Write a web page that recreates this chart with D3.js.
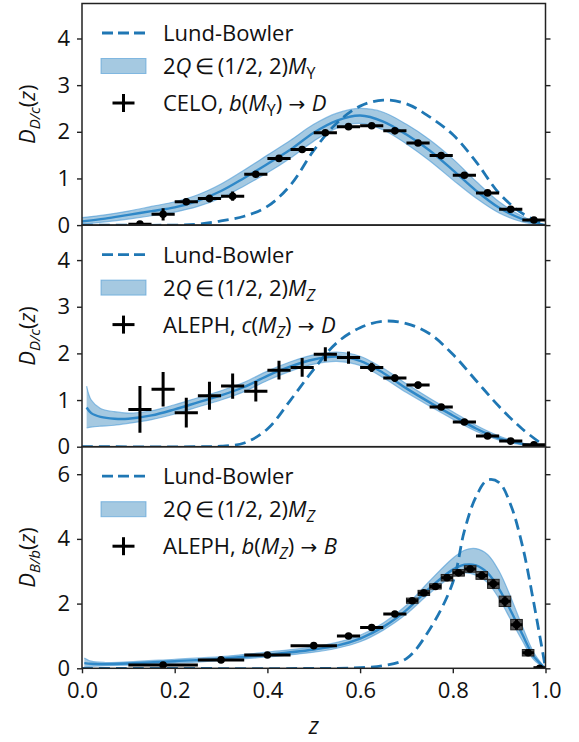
<!DOCTYPE html>
<html>
<head>
<meta charset="utf-8">
<script src="https://cdn.jsdelivr.net/npm/d3@7"></script>
<style>
  body { margin: 0; background: #fff; }
  text { font-family: "Open Sans", sans-serif; fill: #111; }
</style>
</head>
<body>
<div id="chart"></div>
<script>
const width = 579, height = 742;

// ---- panel 1: CELO, b -> D ----
const lundZ1 = [0, 0.2, 0.25, 0.3, 0.35, 0.4, 0.45, 0.5, 0.55, 0.6, 0.65, 0.7, 0.75, 0.8, 0.85, 0.9, 0.95, 1.0];
const lundY1 = [0, 0, 0.02, 0.09, 0.19, 0.4, 0.86, 1.6, 2.19, 2.55, 2.68, 2.6, 2.32, 1.94, 1.36, 0.68, 0.25, 0];
const bandZ1 = [0, 0.05, 0.1, 0.15, 0.2, 0.25, 0.3, 0.35, 0.4, 0.45, 0.5, 0.55, 0.6, 0.65, 0.7, 0.75, 0.8, 0.85, 0.9, 0.95, 1.0];
const mid1 = [0.08, 0.14, 0.22, 0.3, 0.38, 0.52, 0.73, 1.01, 1.31, 1.62, 1.98, 2.24, 2.35, 2.22, 1.94, 1.6, 1.18, 0.74, 0.37, 0.13, 0];
const lo1 = [0.02, 0.07, 0.13, 0.2, 0.28, 0.4, 0.58, 0.84, 1.12, 1.44, 1.8, 2.08, 2.18, 2.04, 1.74, 1.38, 0.97, 0.58, 0.26, 0.07, 0];
const hi1 = [0.16, 0.22, 0.3, 0.4, 0.5, 0.65, 0.88, 1.18, 1.5, 1.82, 2.16, 2.4, 2.5, 2.42, 2.16, 1.83, 1.42, 0.94, 0.5, 0.19, 0];
const dataZ1 = [0.125, 0.175, 0.225, 0.275, 0.325, 0.375, 0.425, 0.475, 0.525, 0.575, 0.625, 0.675, 0.725, 0.775, 0.825, 0.875, 0.925, 0.975];
const dataY1 = [0.02, 0.23, 0.5, 0.57, 0.62, 1.09, 1.43, 1.62, 1.98, 2.11, 2.13, 2.02, 1.76, 1.49, 1.07, 0.69, 0.34, 0.11];
const errY1 = [0.05, 0.13, 0.07, 0.08, 0.1, 0.06, 0.05, 0.05, 0.05, 0.05, 0.05, 0.05, 0.05, 0.05, 0.05, 0.05, 0.04, 0.04];
const errX1 = dataZ1.map(() => 0.025);

// ---- panel 2: ALEPH, c -> D ----
const lundZ2 = [0, 0.25, 0.3, 0.35, 0.4, 0.45, 0.5, 0.55, 0.6, 0.65, 0.7, 0.75, 0.8, 0.85, 0.9, 0.95, 1.0];
const lundY2 = [0, 0, 0.01, 0.08, 0.38, 1.0, 1.66, 2.23, 2.55, 2.69, 2.64, 2.42, 1.98, 1.42, 0.86, 0.38, 0];
const bandZ2 = [0.01, 0.02, 0.04, 0.07, 0.1, 0.15, 0.2, 0.25, 0.3, 0.35, 0.4, 0.45, 0.5, 0.55, 0.6, 0.65, 0.7, 0.75, 0.8, 0.85, 0.9, 0.95, 1.0];
const mid2 = [0.84, 0.72, 0.64, 0.6, 0.6, 0.67, 0.8, 0.95, 1.1, 1.28, 1.52, 1.72, 1.87, 1.93, 1.84, 1.58, 1.25, 0.95, 0.67, 0.39, 0.18, 0.06, 0];
const lo2 = [0.4, 0.42, 0.44, 0.46, 0.5, 0.58, 0.7, 0.85, 1.0, 1.18, 1.42, 1.62, 1.77, 1.83, 1.74, 1.48, 1.16, 0.87, 0.59, 0.33, 0.14, 0.04, 0];
const hi2 = [1.3, 1.0, 0.82, 0.75, 0.72, 0.77, 0.9, 1.05, 1.2, 1.38, 1.62, 1.82, 1.97, 2.03, 1.94, 1.68, 1.35, 1.04, 0.75, 0.46, 0.23, 0.08, 0];
const dataZ2 = [0.125, 0.175, 0.225, 0.275, 0.325, 0.375, 0.425, 0.475, 0.525, 0.575, 0.625, 0.675, 0.725, 0.775, 0.825, 0.875, 0.925, 0.975];
const dataY2 = [0.8, 1.23, 0.73, 1.09, 1.3, 1.19, 1.64, 1.7, 1.98, 1.91, 1.7, 1.47, 1.32, 0.85, 0.53, 0.23, 0.12, 0.04];
const errY2 = [0.5, 0.37, 0.32, 0.3, 0.27, 0.22, 0.2, 0.2, 0.15, 0.13, 0.1, 0.08, 0.07, 0.05, 0.05, 0.04, 0.03, 0.02];
const errX2 = dataZ2.map(() => 0.025);

// ---- panel 3: ALEPH, b -> B ----
const lundZ3 = [0, 0.55, 0.6, 0.65, 0.7, 0.75, 0.8, 0.825, 0.85, 0.875, 0.9, 0.925, 0.95, 0.975, 1.0];
const lundY3 = [0, 0, 0.02, 0.08, 0.3, 1.2, 2.65, 4.25, 5.3, 5.82, 5.74, 5.05, 3.8, 2.0, 0];
const bandZ3 = [0.005, 0.02, 0.05, 0.1, 0.2, 0.3, 0.4, 0.5, 0.55, 0.6, 0.65, 0.7, 0.75, 0.8, 0.825, 0.85, 0.875, 0.9, 0.925, 0.95, 0.975, 1.0];
const mid3 = [0.16, 0.14, 0.13, 0.15, 0.22, 0.3, 0.42, 0.58, 0.7, 0.92, 1.28, 1.8, 2.48, 3.05, 3.2, 3.18, 2.95, 2.45, 1.78, 1.05, 0.36, 0];
const lo3 = [0.04, 0.06, 0.08, 0.1, 0.16, 0.24, 0.35, 0.5, 0.62, 0.82, 1.18, 1.68, 2.32, 2.85, 2.95, 2.88, 2.65, 2.15, 1.5, 0.85, 0.26, 0];
const hi3 = [0.32, 0.22, 0.18, 0.2, 0.28, 0.36, 0.5, 0.66, 0.8, 1.02, 1.4, 1.95, 2.7, 3.4, 3.65, 3.7, 3.52, 3.0, 2.2, 1.3, 0.48, 0];
const dataZ3 = [0.175, 0.3, 0.4, 0.5, 0.575, 0.625, 0.675, 0.7125, 0.7375, 0.7625, 0.7875, 0.8125, 0.8375, 0.8625, 0.8875, 0.9125, 0.9375, 0.9625, 0.9875];
const errX3 = [0.075, 0.05, 0.05, 0.05, 0.025, 0.025, 0.025, 0.0125, 0.0125, 0.0125, 0.0125, 0.0125, 0.0125, 0.0125, 0.0125, 0.0125, 0.0125, 0.0125, 0.0125];
const dataY3 = [0.1, 0.26, 0.41, 0.7, 1.0, 1.26, 1.68, 2.09, 2.33, 2.53, 2.8, 2.95, 3.07, 2.87, 2.61, 2.07, 1.35, 0.48, 0.0];
const errY3 = [0.03, 0.04, 0.05, 0.05, 0.05, 0.05, 0.06, 0.08, 0.08, 0.08, 0.1, 0.1, 0.1, 0.12, 0.14, 0.16, 0.16, 0.1, 0.05];

const xTicks = [0, 0.2, 0.4, 0.6, 0.8, 1.0];

const margin = { left: 82, right: 33.5 };
const panelH = 221.6;
const blue = "#1f77b4";
const fs = 22;
const curve = d3.curveCatmullRom.alpha(0.5);

const svg = d3.select("#chart").append("svg")
  .attr("width", width).attr("height", height);

const x = d3.scaleLinear().domain([0, 1]).range([margin.left, width - margin.right]);

const arrow = [" \u2192 ", "arrow"];
const panels = [
  { top: 3.5, ymax: 4.75, yTicks: [0, 1, 2, 3, 4],
    lund: [lundZ1, lundY1], band: [bandZ1, lo1, mid1, hi1],
    pts: [dataZ1, dataY1, errX1, errY1], dotFrom: 0, boxFrom: 99,
    ylab: [["D", "i"], ["D/c", "subi"], ["(", "n"], ["z", "i"], [")", "n"]],
    lab2: [["2", "n"], ["Q", "i"], ["\u2009\u2208\u2009(1/2, 2)", "n"], ["M", "i"], ["Y", "sub"]],
    lab3: [["CELO, ", "n"], ["b", "i"], ["(", "n"], ["M", "i"], ["Y", "sub"], [")", "n"], arrow, ["D", "i"]] },
  { top: 3.5 + panelH, ymax: 4.75, yTicks: [0, 1, 2, 3, 4],
    lund: [lundZ2, lundY2], band: [bandZ2, lo2, mid2, hi2],
    pts: [dataZ2, dataY2, errX2, errY2], dotFrom: 10, boxFrom: 99,
    ylab: [["D", "i"], ["D/c", "subi"], ["(", "n"], ["z", "i"], [")", "n"]],
    lab2: [["2", "n"], ["Q", "i"], ["\u2009\u2208\u2009(1/2, 2)", "n"], ["M", "i"], ["Z", "subi"]],
    lab3: [["ALEPH, ", "n"], ["c", "i"], ["(", "n"], ["M", "i"], ["Z", "subi"], [")", "n"], arrow, ["D", "i"]] },
  { top: 3.5 + 2 * panelH, ymax: 6.85, yTicks: [0, 2, 4, 6],
    lund: [lundZ3, lundY3], band: [bandZ3, lo3, mid3, hi3],
    pts: [dataZ3, dataY3, errX3, errY3], dotFrom: 0, boxFrom: 7,
    ylab: [["D", "i"], ["B/b", "subi"], ["(", "n"], ["z", "i"], [")", "n"]],
    lab2: [["2", "n"], ["Q", "i"], ["\u2009\u2208\u2009(1/2, 2)", "n"], ["M", "i"], ["Z", "subi"]],
    lab3: [["ALEPH, ", "n"], ["b", "i"], ["(", "n"], ["M", "i"], ["Z", "subi"], [")", "n"], arrow, ["B", "i"]] }
];

function rich(textSel, parts, subSize) {
  let inSub = false;
  parts.forEach(([t, st]) => {
    const sp = textSel.append("tspan").text(t);
    const isSub = st.startsWith("sub");
    if (st === "i" || st === "subi") sp.attr("font-style", "italic");
    if (st === "arrow") sp.style("font-family", '"DejaVu Sans", sans-serif').attr("font-size", fs - 2);
    if (isSub) { sp.attr("font-size", subSize).attr("dy", 5); }
    else if (inSub) { sp.attr("dy", -5); }
    inSub = isSub;
  });
}

panels.forEach((p, k) => {
  const y = d3.scaleLinear().domain([0, p.ymax]).range([p.top + panelH, p.top]);
  const g = svg.append("g");

  const clipId = "clip" + k;
  svg.append("clipPath").attr("id", clipId).append("rect")
    .attr("x", x(0)).attr("y", p.top).attr("width", x(1) - x(0)).attr("height", panelH);
  const plot = g.append("g").attr("clip-path", `url(#${clipId})`);

  const [bz, blo, bmid, bhi] = p.band;
  const bandRows = bz.map((z, i) => ({ z, lo: blo[i], mid: bmid[i], hi: bhi[i] }));
  const area = d3.area().curve(curve)
    .x(d => x(d.z)).y0(d => y(d.lo)).y1(d => y(d.hi));
  plot.append("path").datum(bandRows).attr("d", area)
    .attr("fill", blue).attr("fill-opacity", 0.4);
  ["lo", "hi"].forEach(key => {
    plot.append("path").datum(bandRows)
      .attr("d", d3.line().curve(curve).x(d => x(d.z)).y(d => y(d[key])))
      .attr("fill", "none").attr("stroke", "#4a9ad6").attr("stroke-opacity", 0.6).attr("stroke-width", 1.2);
  });
  plot.append("path").datum(bandRows)
    .attr("d", d3.line().curve(curve).x(d => x(d.z)).y(d => y(d.mid)))
    .attr("fill", "none").attr("stroke", "#2f88c8").attr("stroke-width", 2.4);

  const lundRows = p.lund[0].map((z, i) => ({ z, v: p.lund[1][i] }));
  plot.append("path").datum(lundRows)
    .attr("d", d3.line().curve(curve).x(d => x(d.z)).y(d => y(d.v)))
    .attr("fill", "none").attr("stroke", blue).attr("stroke-width", 2.8)
    .attr("stroke-dasharray", "11,6");

  // data
  const [dz, dy, ex, ey] = p.pts;
  const pts = dz.map((z, i) => ({ z, v: dy[i], ex: ex[i], ey: ey[i], i }));
  const pg = plot.append("g");
  pg.selectAll("rect.box").data(pts.filter(d => d.i >= p.boxFrom)).join("rect")
    .attr("x", d => x(d.z - d.ex)).attr("width", d => x(d.z + d.ex) - x(d.z - d.ex))
    .attr("y", d => y(d.v + d.ey)).attr("height", d => y(d.v - d.ey) - y(d.v + d.ey))
    .attr("fill", "#555").attr("stroke", "#222").attr("stroke-width", 1);
  pg.selectAll("line.h").data(pts).join("line")
    .attr("x1", d => x(d.z - d.ex)).attr("x2", d => x(d.z + d.ex))
    .attr("y1", d => y(d.v)).attr("y2", d => y(d.v))
    .attr("stroke", "#000").attr("stroke-width", 3);
  pg.selectAll("line.v").data(pts).join("line")
    .attr("x1", d => x(d.z)).attr("x2", d => x(d.z))
    .attr("y1", d => y(d.v - d.ey)).attr("y2", d => y(d.v + d.ey))
    .attr("stroke", "#000").attr("stroke-width", 3);
  pg.selectAll("circle").data(pts.filter(d => d.i >= p.dotFrom)).join("circle")
    .attr("cx", d => x(d.z)).attr("cy", d => y(d.v)).attr("r", 3.8).attr("fill", "#000");

  // frame and axes
  g.append("rect").attr("x", x(0)).attr("y", p.top).attr("width", x(1) - x(0)).attr("height", panelH)
    .attr("fill", "none").attr("stroke", "#222").attr("stroke-width", 1.5);

  const yAxis = g.append("g").attr("transform", `translate(${x(0)},0)`)
    .call(d3.axisLeft(y).tickValues(p.yTicks).tickFormat(d3.format("d")).tickSize(5).tickPadding(7));
  yAxis.select(".domain").remove();
  yAxis.selectAll("line").attr("stroke", "#222").attr("stroke-width", 1.4);
  yAxis.selectAll("text").attr("font-size", fs).attr("fill", "#111")
    .style("font-family", '"Open Sans", sans-serif');

  const yRight = g.append("g").attr("transform", `translate(${x(1)},0)`)
    .call(d3.axisRight(y).tickValues(p.yTicks).tickFormat("").tickSize(5));
  yRight.select(".domain").remove();
  yRight.selectAll("line").attr("stroke", "#222").attr("stroke-width", 1.4);

  // y label
  const yl = g.append("text")
    .attr("transform", `translate(35,${p.top + panelH / 2}) rotate(-90)`)
    .attr("text-anchor", "middle").attr("font-size", fs);
  rich(yl, p.ylab, 15);

  // legend
  const lx0 = 102, lx1 = 145, tx = 163;
  const ly = p.top + 29.5;
  g.append("line").attr("x1", lx0).attr("x2", lx1).attr("y1", ly).attr("y2", ly)
    .attr("stroke", blue).attr("stroke-width", 2.8).attr("stroke-dasharray", "11,5");
  g.append("text").attr("x", tx).attr("y", ly + 8).attr("font-size", fs).text("Lund-Bowler");

  const ly2 = ly + 33;
  g.append("rect").attr("x", lx0 - 1).attr("y", ly2 - 7.5).attr("width", lx1 - lx0 + 2).attr("height", 15)
    .attr("fill", blue).attr("fill-opacity", 0.4).attr("stroke", "#4a9ad6").attr("stroke-opacity", 0.6);
  const t2 = g.append("text").attr("x", tx).attr("y", ly2 + 8).attr("font-size", fs);
  rich(t2, p.lab2, 16);

  const ly3 = ly + 70;
  const cx = (lx0 + lx1) / 2;
  g.append("line").attr("x1", cx - 11).attr("x2", cx + 11).attr("y1", ly3).attr("y2", ly3)
    .attr("stroke", "#000").attr("stroke-width", 3);
  g.append("line").attr("x1", cx).attr("x2", cx).attr("y1", ly3 - 9).attr("y2", ly3 + 9)
    .attr("stroke", "#000").attr("stroke-width", 3);
  const t3 = g.append("text").attr("x", tx).attr("y", ly3 + 8).attr("font-size", fs);
  rich(t3, p.lab3, 16);

  if (k === 2) {
    const xAxis = g.append("g").attr("transform", `translate(0,${p.top + panelH})`)
      .call(d3.axisBottom(x).tickValues(xTicks).tickFormat(d3.format(".1f")).tickSize(5).tickPadding(9));
    xAxis.select(".domain").remove();
    xAxis.selectAll("line").attr("stroke", "#222").attr("stroke-width", 1.4);
    xAxis.selectAll("text").attr("font-size", fs).attr("fill", "#111")
      .style("font-family", '"Open Sans", sans-serif');
    g.append("text").attr("x", (x(0) + x(1)) / 2).attr("y", 734)
      .attr("text-anchor", "middle").attr("font-size", 23).attr("font-style", "italic").text("z");
  }
});
</script>
</body>
</html>
